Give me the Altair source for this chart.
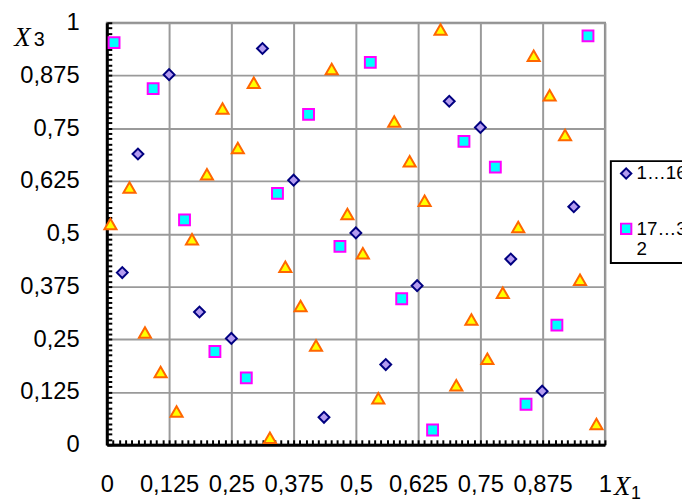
import altair as alt
import pandas as pd

# ---- data ----
diamond_x1 = [0.125, 0.3125, 0.0625, 0.375, 0.6875, 0.75, 0.9375, 0.5,
              0.031, 0.186, 0.25, 0.436, 0.811, 0.623, 0.56, 0.874]
diamond_x3 = [0.877, 0.939, 0.689, 0.627, 0.814, 0.752, 0.564, 0.502,
              0.408, 0.3145, 0.252, 0.065, 0.44, 0.377, 0.19, 0.127]

square_x1 = [0.0145, 0.093, 0.405, 0.3426, 0.156, 0.529, 0.966, 0.717,
             0.78, 0.468, 0.217, 0.28, 0.592, 0.9036, 0.8416, 0.654]
square_x3 = [0.953, 0.844, 0.783, 0.5956, 0.533, 0.906, 0.969, 0.719,
             0.658, 0.47, 0.221, 0.1585, 0.346, 0.2834, 0.096, 0.035]

triangle_x1 = [0.0073, 0.0455, 0.0766, 0.108, 0.14, 0.171, 0.201, 0.2323,
               0.263, 0.295, 0.3274, 0.3584, 0.389, 0.42, 0.4515, 0.483,
               0.514, 0.545, 0.577, 0.608, 0.638, 0.67, 0.7016, 0.732,
               0.764, 0.795, 0.826, 0.857, 0.889, 0.92, 0.95, 0.983]
triangle_x3 = [0.523, 0.6096, 0.266, 0.1726, 0.079, 0.487, 0.641, 0.797,
               0.703, 0.858, 0.0164, 0.422, 0.3286, 0.235, 0.8906, 0.547,
               0.454, 0.11, 0.766, 0.672, 0.578, 0.984, 0.141, 0.297,
               0.204, 0.36, 0.516, 0.922, 0.828, 0.734, 0.391, 0.049]

series_names = ["1…16", "17…32"]
tick_values = [0, 0.125, 0.25, 0.375, 0.5, 0.625, 0.75, 0.875, 1]
minor_tick_values = [i / 80 for i in range(81)]

shape_range = ["diamond", "square"]
fill_range = ["#B49CF0", "#00FFFF"]
stroke_range = ["#000080", "#FF00FF"]

rows = []
for xs, ys, name in [(diamond_x1, diamond_x3, series_names[0]),
                     (square_x1, square_x3, series_names[1])]:
    for a, b in zip(xs, ys):
        rows.append({"x1": a, "x3": b, "series": name})
df = pd.DataFrame(rows)
df_tri = pd.DataFrame({"x1": triangle_x1, "x3": triangle_x3})

SANS = "Liberation Sans"
SERIF = "Liberation Serif"
W, H = 504, 427

label_expr = "replace(toString(datum.value), '.', ',')"

def make_legend():
    return alt.Legend(
        title=None, orient="none", legendX=510, legendY=140,
        labelFont=SANS, labelFontSize=19, labelColor="black", labelOffset=1,
        symbolSize=110, symbolStrokeWidth=2, symbolOffset=3, padding=3,
        rowPadding=36, fillColor="white", strokeColor="black",
        labelExpr="datum.label == '17…32' ? ['17…3', '2'] : datum.label",
    )

def main_scale():
    return alt.Scale(domain=[0, 1], nice=False, zero=False)

x_axis = alt.Axis(
    values=tick_values, grid=True, gridColor="#9A9A9A", gridWidth=2,
    ticks=False, tickSize=0, domain=True, domainColor="black", domainWidth=3,
    labelExpr=label_expr, labelFont=SANS, labelFontSize=24, labelColor="black",
    labelPadding=28, labelOverlap=False, labelFlush=False,
    title="X", titleFont=SERIF, titleFontStyle="italic", titleFontSize=27,
    titleFontWeight="normal", titleColor="black", titleX=521, titleY=50,
    titleAlign="center", titleBaseline="alphabetic", titleAngle=0,
)
y_axis = alt.Axis(
    values=tick_values, grid=True, gridColor="#9A9A9A", gridWidth=2,
    ticks=False, tickSize=0, domain=True, domainColor="black", domainWidth=3,
    labelExpr=label_expr, labelFont=SANS, labelFontSize=24, labelColor="black",
    labelPadding=28, labelOverlap=False, labelFlush=False,
    title="X", titleFont=SERIF, titleFontStyle="italic", titleFontSize=27,
    titleFontWeight="normal", titleColor="black", titleX=-86, titleY=23,
    titleAlign="center", titleBaseline="alphabetic", titleAngle=0,
)

points = alt.Chart(df).mark_point(filled=True, opacity=1, strokeWidth=2, size=121).encode(
    x=alt.X("x1:Q", scale=main_scale(), axis=x_axis),
    y=alt.Y("x3:Q", scale=main_scale(), axis=y_axis),
    shape=alt.Shape("series:N", scale=alt.Scale(domain=series_names, range=shape_range), legend=make_legend()),
    fill=alt.Fill("series:N", scale=alt.Scale(domain=series_names, range=fill_range), legend=make_legend()),
    stroke=alt.Stroke("series:N", scale=alt.Scale(domain=series_names, range=stroke_range), legend=make_legend()),
)

triangles = alt.Chart(df_tri).mark_point(
    filled=True, opacity=1, shape="triangle-up", size=150,
    fill="#FFFF00", stroke="#FF6600", strokeWidth=2,
).encode(
    x=alt.X("x1:Q", scale=main_scale(), axis=alt.Axis(
        orient="top", offset=-H, values=minor_tick_values, labels=False,
        domain=False, grid=False, ticks=True, tickSize=5, tickWidth=2,
        tickColor="black", title="1", titleFont=SANS, titleFontSize=18,
        titleFontWeight="normal", titleColor="black", titleX=535, titleY=54,
        titleAlign="center", titleBaseline="alphabetic", titleAngle=0)),
    y=alt.Y("x3:Q", scale=main_scale(), axis=alt.Axis(
        orient="right", offset=-W, values=minor_tick_values, labels=False,
        domain=False, grid=False, ticks=True, tickSize=5, tickWidth=2,
        tickColor="black", title="3", titleFont=SANS, titleFontSize=20,
        titleFontWeight="normal", titleColor="black", titleX=-69, titleY=23,
        titleAlign="center", titleBaseline="alphabetic", titleAngle=0)),
)

chart = alt.layer(points, triangles).resolve_scale(
    x="independent", y="independent"
).properties(
    width=W, height=H,
    autosize=alt.AutoSizeParams(type="none"),
    padding={"left": 100, "top": 12, "right": 78, "bottom": 55},
    background="white",
).configure_view(
    stroke="#808080", strokeWidth=2
).configure_legend(
    strokeWidth=2
)

chart.save("out.html", embed_options={"renderer": "svg", "actions": False})
